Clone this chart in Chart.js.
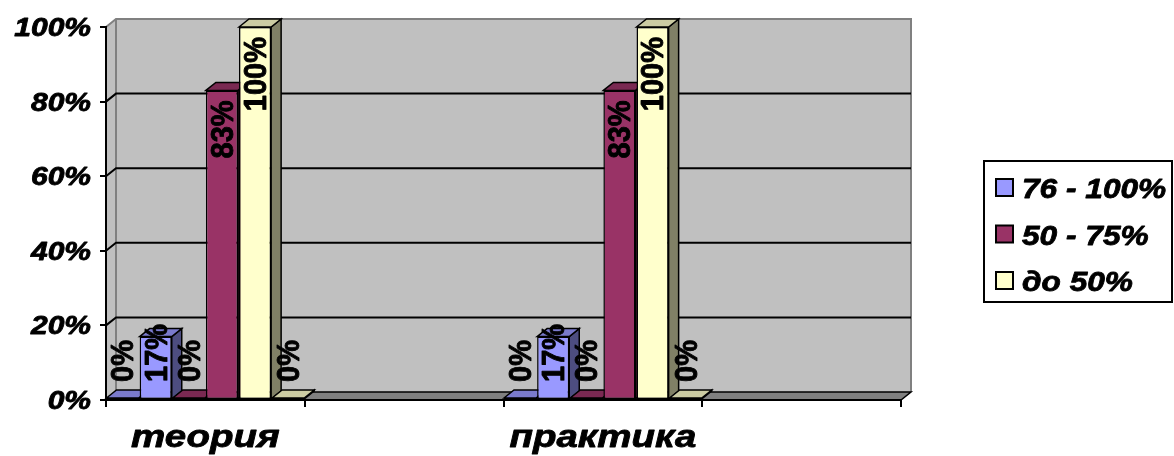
<!DOCTYPE html>
<html>
<head>
<meta charset="utf-8">
<script src="https://cdn.jsdelivr.net/npm/chart.js@4.4.1/dist/chart.umd.min.js"></script>
<style>
  html, body { margin: 0; padding: 0; background: #fff; }
  #chart { display: block; }
</style>
</head>
<body>
<canvas id="chart" width="1174" height="456"></canvas>
<script>
const categories = ['теория', '', 'практика', '']
const seriesNames = ['76 - 100%', '50 - 75%', 'до 50%']
const blueLow = [0, null, 0, null]
const blueHigh = [17, null, 17, null]
const maroonLow = [0, null, 0, null]
const maroonHigh = [83, null, 83, null]
const yellowHigh = [100, null, 100, null]
const yellowLow = [0, null, 0, null]
const yTicks = [0, 20, 40, 60, 80, 100]

const colors = ['#9999FF', '#993366', '#FFFFCC']
const DX = 10
const DY = 8
const FONT = '"Liberation Sans", Arial, sans-serif'

function shade(hex, f) {
  let n = parseInt(hex.slice(1), 16)
  let r = Math.round(((n >> 16) & 255) * f)
  let g = Math.round(((n >> 8) & 255) * f)
  let b = Math.round((n & 255) * f)
  return 'rgb(' + r + ',' + g + ',' + b + ')'
}

function poly(ctx, pts, fill, stroke, lw) {
  ctx.beginPath()
  ctx.moveTo(pts[0][0], pts[0][1])
  for (let i = 1; i < pts.length; i++) ctx.lineTo(pts[i][0], pts[i][1])
  ctx.closePath()
  if (fill) { ctx.fillStyle = fill; ctx.fill() }
  if (stroke) { ctx.strokeStyle = stroke; ctx.lineWidth = lw || 1; ctx.stroke() }
}

// the original text looks wider and heavier than plain bold, so stretch + outline a bit
function boldText(ctx, text, x, y) {
  ctx.strokeStyle = '#000'
  ctx.lineWidth = 0.8
  ctx.lineJoin = 'round'
  ctx.strokeText(text, x, y)
  ctx.fillText(text, x, y)
}

function stretchText(ctx, text, x, y, sx, align) {
  ctx.save()
  ctx.translate(x, y)
  ctx.scale(sx, 1)
  ctx.textAlign = align
  boldText(ctx, text, 0, 0)
  ctx.restore()
}

const wallPlugin = {
  id: 'wall',
  beforeDraw(chart) {
    const ctx = chart.ctx
    const a = chart.chartArea
    const ys = chart.scales.y
    const xs = chart.scales.x
    ctx.save()
    // left side wall
    poly(ctx, [[a.left, a.top], [a.left + DX, a.top - DY], [a.left + DX, a.bottom - DY], [a.left, a.bottom]], '#c0c0c0')
    // back wall
    ctx.fillStyle = '#c0c0c0'
    ctx.fillRect(a.left + DX, a.top - DY, a.right - a.left, a.bottom - a.top)
    ctx.strokeStyle = '#808080'
    ctx.lineWidth = 2
    ctx.beginPath()
    ctx.moveTo(a.left, a.top)
    ctx.lineTo(a.left + DX, a.top - DY)
    ctx.lineTo(a.right + DX, a.top - DY)
    ctx.lineTo(a.right + DX, a.bottom - DY)
    ctx.stroke()
    ctx.beginPath()
    ctx.moveTo(a.left + DX, a.top - DY)
    ctx.lineTo(a.left + DX, a.bottom - DY)
    ctx.stroke()
    // gridlines on the wall
    ctx.strokeStyle = '#000'
    ctx.lineWidth = 2
    yTicks.forEach(v => {
      if (v === 0 || v === 100) return
      let py = ys.getPixelForValue(v)
      ctx.beginPath()
      ctx.moveTo(a.left, py)
      ctx.lineTo(a.left + DX, py - DY)
      ctx.lineTo(a.right + DX, py - DY)
      ctx.stroke()
    })
    // floor
    poly(ctx, [[a.left, a.bottom], [a.right, a.bottom], [a.right + DX, a.bottom - DY], [a.left + DX, a.bottom - DY]], '#808080', '#000', 1.5)

    // y tick labels
    ctx.fillStyle = '#000'
    ctx.font = 'bold italic 25px ' + FONT
    ctx.textBaseline = 'alphabetic'
    yTicks.forEach(v => {
      let py = ys.getPixelForValue(v)
      stretchText(ctx, v + '%', 91, py + 9, 1.2, 'right')
    })
    // category labels
    ctx.font = 'bold italic 31px ' + FONT
    categories.forEach((c, i) => {
      if (!c) return
      stretchText(ctx, c, xs.getPixelForValue(i), 447, 1.24, 'center')
    })
    ctx.restore()
  }
}

const barFacesPlugin = {
  id: 'barFaces',
  beforeDatasetsDraw(chart) {
    const ctx = chart.ctx
    ctx.save()
    chart.data.datasets.forEach((ds, di) => {
      const meta = chart.getDatasetMeta(di)
      meta.data.forEach((el, i) => {
        if (ds.data[i] === null) return
        const p = el.getProps(['x', 'y', 'width', 'base'], true)
        const l = p.x - p.width / 2
        const r = p.x + p.width / 2
        const col = ds.backgroundColor
        poly(ctx, [[r, p.y], [r + DX, p.y - DY], [r + DX, p.base - DY], [r, p.base]], shade(col, 0.5), '#000', 1.5)
        poly(ctx, [[l, p.y], [l + DX, p.y - DY], [r + DX, p.y - DY], [r, p.y]], shade(col, 0.8), '#000', 1.5)
      })
    })
    ctx.restore()
  }
}

const valueLabelPlugin = {
  id: 'valueLabels',
  afterDatasetsDraw(chart) {
    const ctx = chart.ctx
    const a = chart.chartArea
    ctx.save()
    ctx.fillStyle = '#000'
    ctx.font = 'bold 29px ' + FONT
    ctx.textBaseline = 'middle'
    chart.data.datasets.forEach((ds, di) => {
      const meta = chart.getDatasetMeta(di)
      meta.data.forEach((el, i) => {
        const v = ds.data[i]
        if (v === null) return
        const text = v + '%'
        const len = ctx.measureText(text).width
        let bottom = el.y + 10 + len
        if (bottom > a.bottom - 18) bottom = a.bottom - 18
        ctx.save()
        ctx.translate(el.x + 1, bottom)
        ctx.scale(1.1, 1)
        ctx.rotate(-Math.PI / 2)
        ctx.textAlign = 'left'
        boldText(ctx, text, 0, 1)
        ctx.restore()
      })
    })
    ctx.restore()
  }
}

const legendPlugin = {
  id: 'boxLegend',
  afterDraw(chart) {
    const ctx = chart.ctx
    ctx.save()
    ctx.fillStyle = '#fff'
    ctx.fillRect(984, 161, 188, 141)
    ctx.strokeStyle = '#000'
    ctx.lineWidth = 2
    ctx.strokeRect(984, 161, 188, 141)
    ctx.font = 'bold italic 28px ' + FONT
    ctx.textBaseline = 'alphabetic'
    seriesNames.forEach((name, i) => {
      const cy = 188 + i * 46.5
      ctx.fillStyle = colors[i]
      ctx.fillRect(996, cy - 9, 17, 17)
      ctx.lineWidth = 2
      ctx.strokeStyle = '#000'
      ctx.strokeRect(996, cy - 9, 17, 17)
      ctx.fillStyle = '#000'
      stretchText(ctx, name, 1022, cy + 10, 1.13, 'left')
    })
    ctx.restore()
  }
}

const datasets = [
  { label: seriesNames[0], data: blueLow, backgroundColor: colors[0] },
  { label: seriesNames[0], data: blueHigh, backgroundColor: colors[0] },
  { label: seriesNames[1], data: maroonLow, backgroundColor: colors[1] },
  { label: seriesNames[1], data: maroonHigh, backgroundColor: colors[1] },
  { label: seriesNames[2], data: yellowHigh, backgroundColor: colors[2] },
  { label: seriesNames[2], data: yellowLow, backgroundColor: colors[2] }
]

const config = {
  type: 'bar',
  data: { labels: categories, datasets: datasets },
  options: {
    responsive: false,
    animation: false,
    devicePixelRatio: 1,
    layout: { padding: { left: 0, top: 27, right: 273, bottom: 0 } },
    datasets: {
      bar: {
        categoryPercentage: 1,
        barPercentage: 0.97,
        minBarLength: 2,
        borderWidth: 1.5,
        borderColor: '#000',
        borderSkipped: false
      }
    },
    plugins: {
      legend: { display: false },
      tooltip: { enabled: false }
    },
    scales: {
      x: {
        offset: true,
        grid: { display: true, offset: true, drawOnChartArea: false, drawTicks: true, tickLength: 7, color: '#000', lineWidth: 2 },
        border: { display: true, color: '#000', width: 2 },
        ticks: { display: false },
        afterFit: s => { s.height = 56 }
      },
      y: {
        min: 0,
        max: 100,
        ticks: { display: false, stepSize: 20 },
        grid: { drawOnChartArea: false, drawTicks: true, tickLength: 6, color: '#000', lineWidth: 2 },
        border: { display: true, color: '#000', width: 2 },
        afterFit: s => { s.width = 106 }
      }
    }
  },
  plugins: [wallPlugin, barFacesPlugin, valueLabelPlugin, legendPlugin]
}

const chartBars = new Chart(document.getElementById('chart').getContext('2d'), config)
</script>
</body>
</html>
